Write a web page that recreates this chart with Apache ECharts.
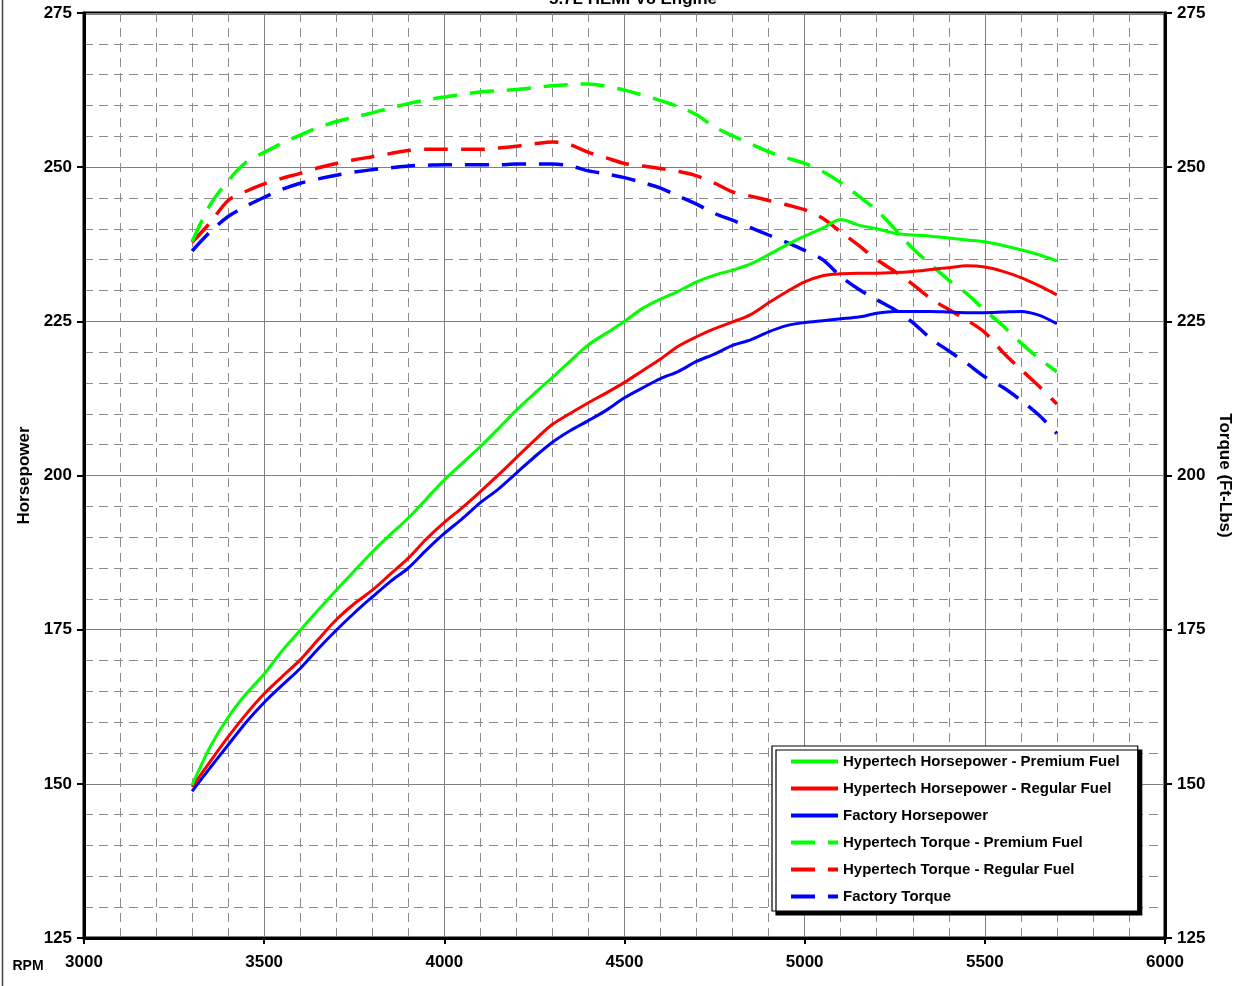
<!DOCTYPE html>
<html>
<head>
<meta charset="utf-8">
<script src="https://cdn.jsdelivr.net/npm/echarts@6/dist/echarts.min.js"></script>
<style>
html,body{margin:0;padding:0;background:#fff;}
#chart{width:1249px;height:986px;}
</style>
</head>
<body>
<div id="chart"></div>
<script>
const titleText = '5.7L HEMI V8 Engine';
const rpm = [3300,3350,3400,3450,3500,3550,3600,3650,3700,3750,3800,3850,3900,3950,4000,4050,4100,4150,4200,4250,4300,4350,4400,4450,4500,4550,4600,4650,4700,4750,4800,4850,4900,4950,5000,5050,5100,5150,5200,5250,5300,5350,5400,5450,5500,5550,5600,5650,5700];

const hpPremium = [149.8,156.0,160.8,164.6,167.8,171.6,174.9,178.2,181.4,184.5,187.6,190.4,193.1,196.2,199.3,202.0,204.7,207.6,210.6,213.3,215.9,218.6,221.2,223.1,225.0,227.1,228.6,229.9,231.4,232.5,233.3,234.3,235.8,237.4,238.8,240.1,241.5,240.6,240.0,239.3,239.0,238.8,238.5,238.2,237.9,237.3,236.6,235.8,234.8];
const hpRegular = [149.5,153.6,157.6,161.3,164.6,167.4,170.1,173.4,176.6,179.2,181.4,184.0,186.6,189.7,192.4,194.8,197.4,200.1,202.9,205.7,208.3,210.1,211.8,213.4,215.1,217.0,218.9,221.0,222.5,223.8,224.9,226.1,228.0,229.8,231.4,232.4,232.7,232.8,232.8,232.9,233.1,233.4,233.7,234.0,233.8,233.1,232.1,230.8,229.3];
const hpFactory = [148.8,152.6,156.3,160.0,163.2,166.0,168.7,171.9,174.9,177.7,180.3,182.8,185.0,187.9,190.6,193.0,195.6,197.8,200.4,203.0,205.4,207.3,208.9,210.6,212.6,214.2,215.7,216.9,218.5,219.7,221.1,222.0,223.3,224.3,224.8,225.1,225.4,225.7,226.3,226.6,226.6,226.6,226.5,226.4,226.4,226.5,226.6,226.0,224.6];
const tqPremium = [237.9,243.9,247.8,250.8,252.4,253.9,255.2,256.4,257.4,258.1,258.8,259.6,260.3,260.9,261.4,261.8,262.2,262.4,262.6,262.9,263.2,263.4,263.5,263.1,262.5,261.7,260.8,259.8,258.5,256.5,255.1,253.8,252.5,251.5,250.6,249.3,247.5,245.3,243.0,240.0,236.8,234.2,231.7,229.5,226.8,224.3,221.5,219.0,216.8];
const tqRegular = [237.8,241.0,244.6,246.1,247.3,248.2,249.0,249.9,250.6,251.2,251.7,252.2,252.7,252.9,252.9,252.9,252.9,253.1,253.4,253.8,254.1,253.6,252.4,251.5,250.6,250.2,249.8,249.3,248.6,247.4,246.0,245.3,244.6,243.9,243.1,241.7,239.5,237.3,235.0,233.1,231.0,228.7,226.9,225.2,223.2,220.0,217.2,214.5,211.6];
const tqFactory = [236.4,239.5,242.0,243.7,245.1,246.4,247.4,248.1,248.7,249.2,249.6,249.9,250.2,250.3,250.4,250.4,250.4,250.4,250.5,250.5,250.5,250.2,249.4,248.9,248.3,247.5,246.6,245.3,244.0,242.5,241.4,240.2,239.0,237.8,236.5,235.0,232.3,230.2,228.5,226.9,224.8,222.2,220.2,218.2,216.0,214.3,212.2,209.8,206.8];

const seriesNames = ['Hypertech Horsepower - Premium Fuel','Hypertech Horsepower - Regular Fuel','Factory Horsepower','Hypertech Torque - Premium Fuel','Hypertech Torque - Regular Fuel','Factory Torque'];
const seriesData = [hpPremium,hpRegular,hpFactory,tqPremium,tqRegular,tqFactory];
const seriesColors = ['#00FF00','#FF0000','#0000FF','#00FF00','#FF0000','#0000FF'];
const xTicks = {min:3000,max:6000,interval:500};
const yTicks = {min:125,max:275,interval:25};

const FONT = 'Arial, "Liberation Sans", sans-serif';
const chart = echarts.init(document.getElementById('chart'), null, {renderer:'canvas'});

const series = seriesNames.map((name,i)=>({
  name:name,
  type:'line',
  yAxisIndex: i<3?0:1,
  data: rpm.map((r,j)=>[r, seriesData[i][j]]),
  showSymbol:false,
  symbol:'none',
  symbolSize:0,
  smooth:0.3,
  z: 10-i,
  lineStyle:{color:seriesColors[i], width: i<3?3:3.5, type: i<3?'solid':[24,13]},
  itemStyle:{color:seriesColors[i]},
  emphasis:{disabled:true}
}));

const option = {
  backgroundColor:'#fff',
  animation:false,
  textStyle:{fontFamily:FONT},
  grid:{left:84,right:84,top:13,bottom:48,show:true,borderColor:'#000',borderWidth:3,backgroundColor:'transparent'},
  legend:{
    orient:'vertical',
    left:772, top:746,
    padding:[8,18,7,17],
    itemWidth:47, itemHeight:14, itemGap:12,
    backgroundColor:'#fff',
    borderColor:'#000', borderWidth:1.2,
    shadowColor:'#000', shadowBlur:0, shadowOffsetX:4, shadowOffsetY:4,
    itemStyle:{opacity:0},
    lineStyle:{width:4},
    textStyle:{fontFamily:FONT,fontWeight:'bold',fontSize:15,color:'#000'},
    data:seriesNames,
    selectedMode:false
  },
  xAxis:{
    type:'value', min:xTicks.min, max:xTicks.max, interval:xTicks.interval,
    axisLine:{show:true,onZero:false,lineStyle:{color:'#000',width:3}},
    axisTick:{show:true,length:6,lineStyle:{color:'#000',width:2}},
    axisLabel:{margin:16,fontFamily:FONT,fontWeight:'bold',fontSize:17,color:'#000',showMinLabel:true,showMaxLabel:true,formatter:v=>String(v)},
    splitLine:{show:true,lineStyle:{color:'#808080',width:1}},
    minorTick:{show:true,splitNumber:5,length:0},
    minorSplitLine:{show:true,lineStyle:{color:'#8c8c8c',width:1,type:[9,6]}}
  },
  yAxis:[{
    type:'value', min:yTicks.min, max:yTicks.max, interval:yTicks.interval, position:'left',
    name:'Horsepower', nameLocation:'middle', nameGap:45, nameRotate:90,
    nameTextStyle:{fontFamily:FONT,fontWeight:'bold',fontSize:17,color:'#000'},
    axisLine:{show:true,lineStyle:{color:'#000',width:3}},
    axisTick:{show:true,length:7,lineStyle:{color:'#000',width:2}},
    axisLabel:{margin:12,fontFamily:FONT,fontWeight:'bold',fontSize:17,color:'#000',formatter:v=>String(v)},
    splitLine:{show:true,lineStyle:{color:'#808080',width:1}},
    minorTick:{show:true,splitNumber:5,length:0},
    minorSplitLine:{show:true,lineStyle:{color:'#8c8c8c',width:1,type:[9,6]}}
  },{
    type:'value', min:yTicks.min, max:yTicks.max, interval:yTicks.interval, position:'right',
    name:'Torque (Ft-Lbs)', nameLocation:'middle', nameGap:48, nameRotate:-90,
    nameTextStyle:{fontFamily:FONT,fontWeight:'bold',fontSize:17,color:'#000'},
    axisLine:{show:true,lineStyle:{color:'#000',width:3}},
    axisTick:{show:true,length:7,lineStyle:{color:'#000',width:2}},
    axisLabel:{margin:12,fontFamily:FONT,fontWeight:'bold',fontSize:17,color:'#000',formatter:v=>String(v)},
    splitLine:{show:false}
  }],
  graphic:[
    {type:'text', x:633, y:8, style:{text:titleText, fontFamily:FONT, fontWeight:'bold', fontSize:17, fill:'#000', align:'center', verticalAlign:'bottom'}, z:100},
    {type:'text', x:28, y:966, style:{text:'RPM', fontFamily:FONT, fontWeight:'bold', fontSize:14, fill:'#000', align:'center', verticalAlign:'middle'}, z:100},
    {type:'line', shape:{x1:2.5,y1:0,x2:2.5,y2:986}, style:{stroke:'#444',lineWidth:1.5}, z:100}
  ],
  series:series
};
chart.setOption(option);
</script>
</body>
</html>
